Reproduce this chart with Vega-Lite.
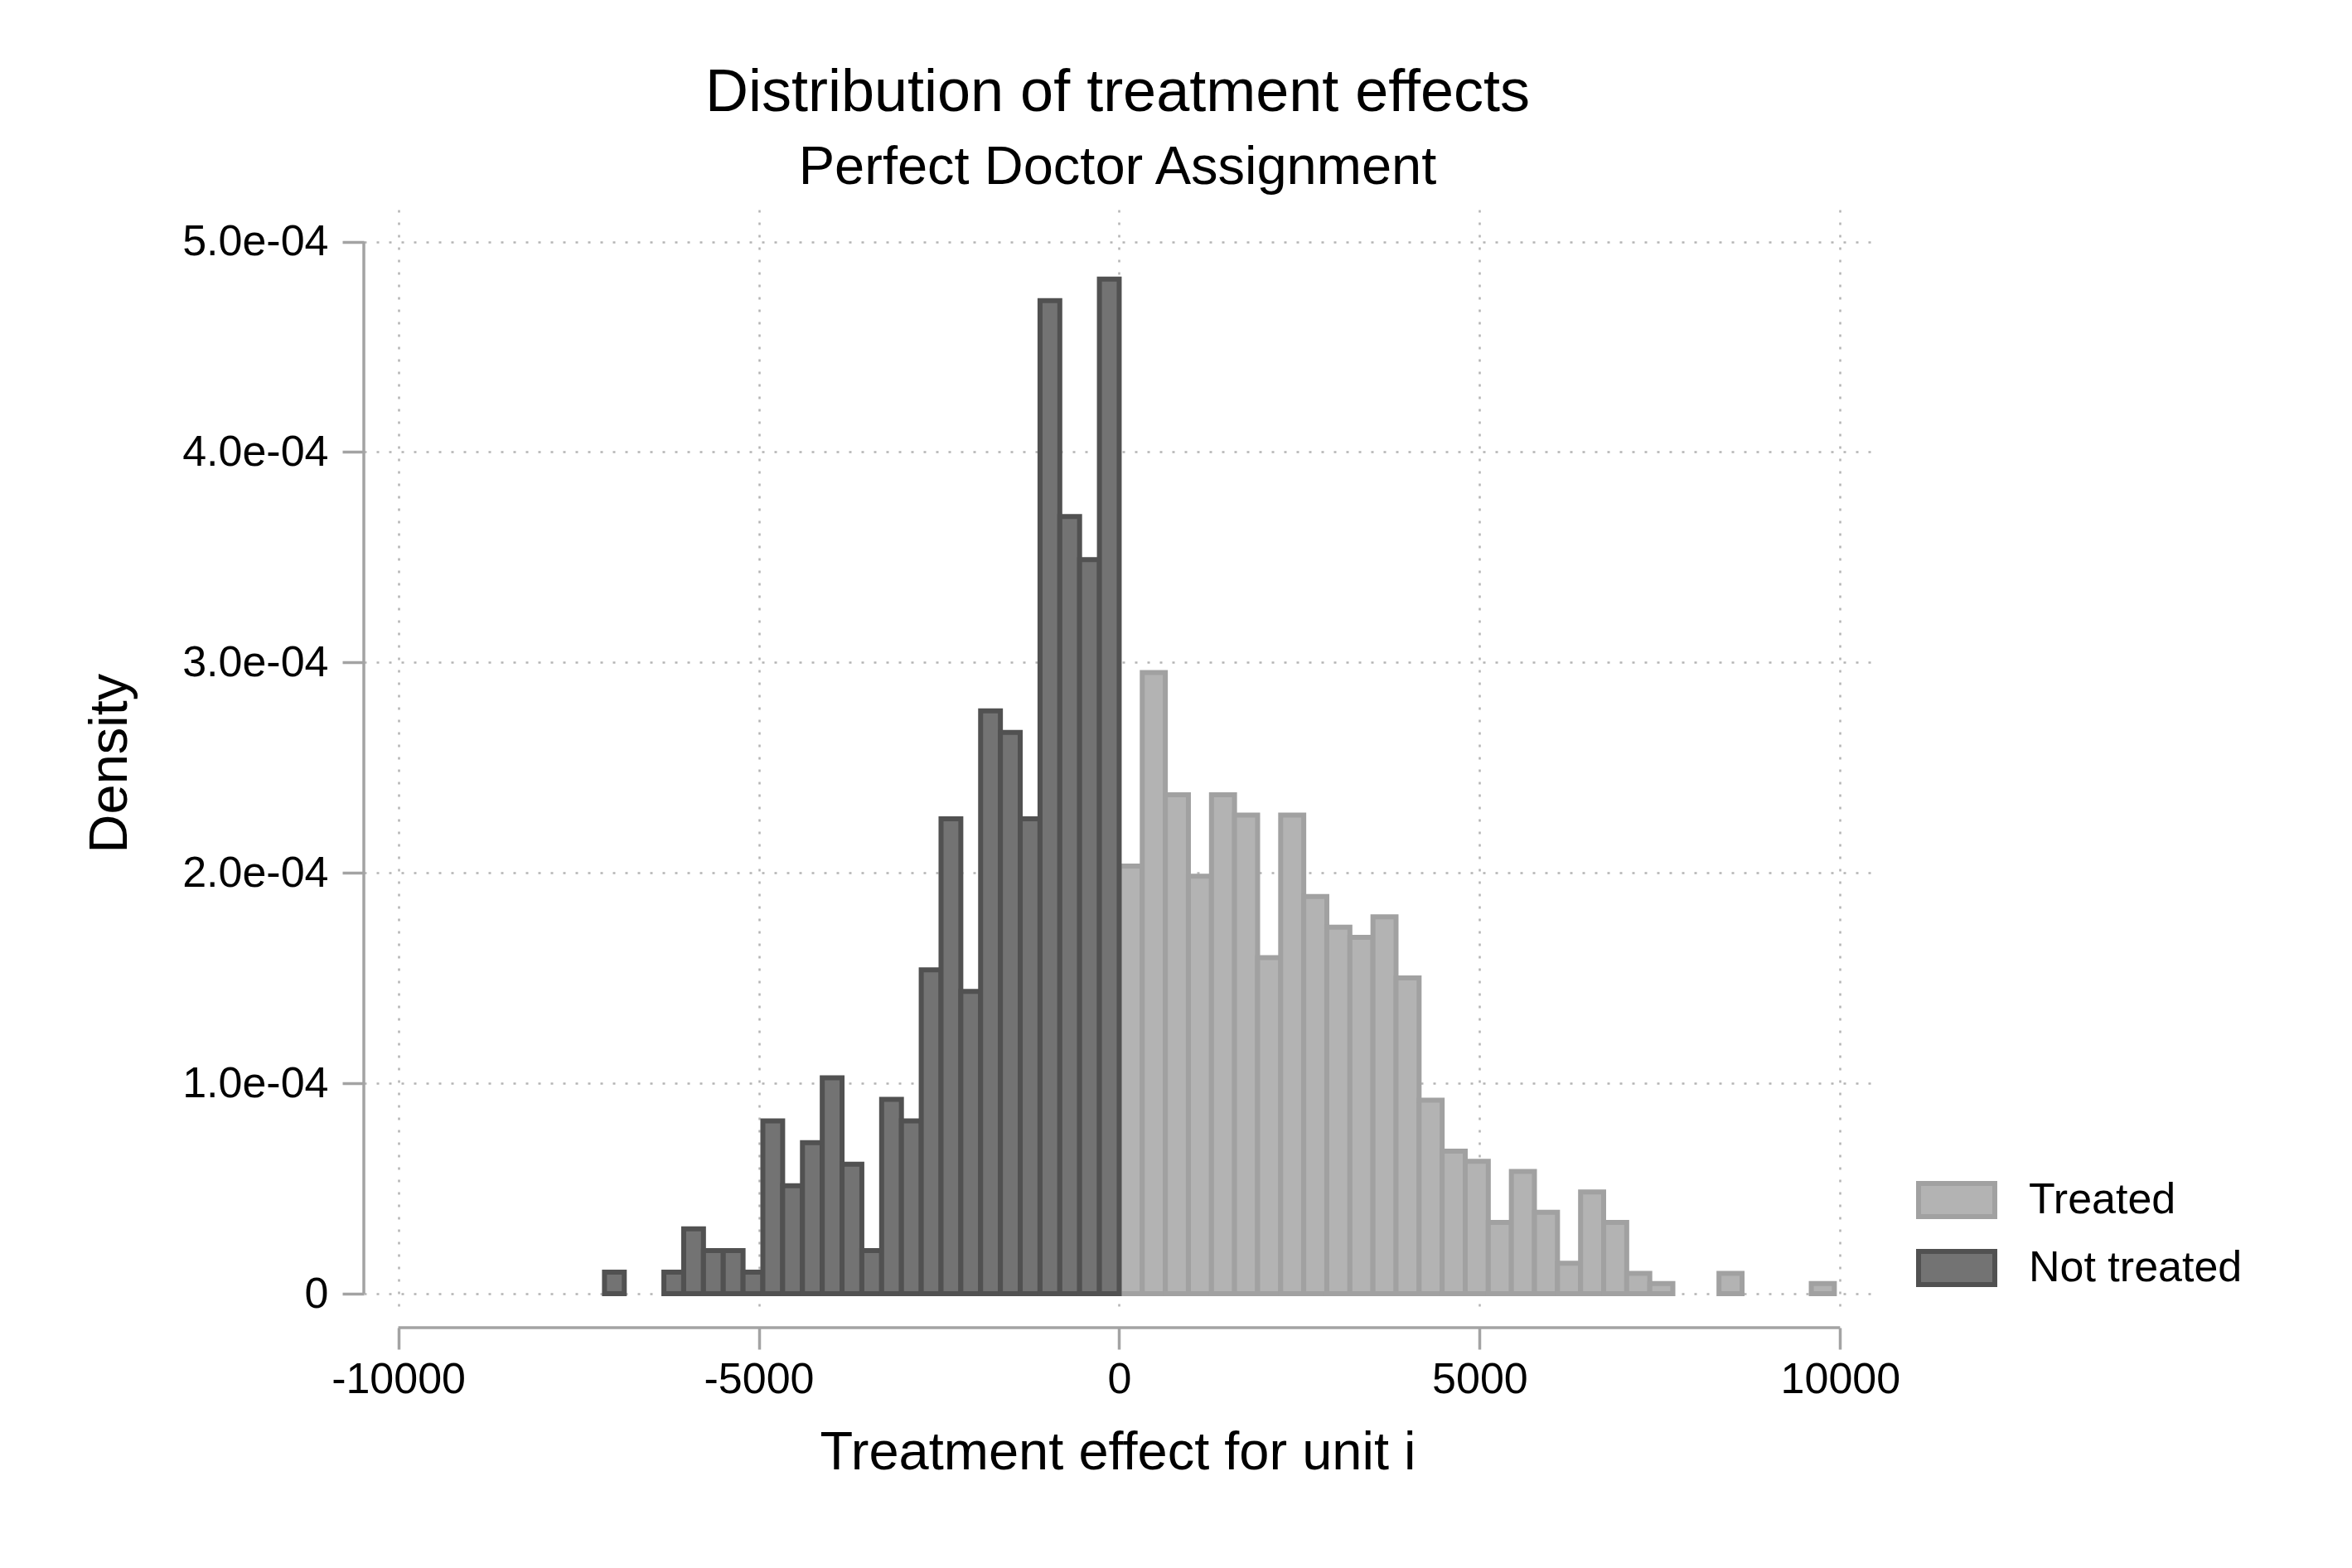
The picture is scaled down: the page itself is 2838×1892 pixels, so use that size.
{
  "$schema": "https://vega.github.io/schema/vega-lite/v6.json",
  "autosize": {"type": "none"},
  "padding": {"left": 439, "top": 253, "right": 580, "bottom": 304},
  "width": 1819,
  "height": 1335,
  "background": "white",
  "title": {
    "text": "Distribution of treatment effects",
    "subtitle": "Perfect Doctor Assignment",
    "anchor": "middle",
    "frame": "group",
    "font": "Liberation Sans",
    "fontSize": 72,
    "fontWeight": "normal",
    "color": "black",
    "subtitleFont": "Liberation Sans",
    "subtitleFontSize": 65,
    "subtitleColor": "black",
    "subtitlePadding": 22,
    "offset": 17
  },
  "config": {
    "view": {"stroke": null},
    "axis": {
      "labelFont": "Liberation Sans",
      "labelFontSize": 52,
      "labelColor": "black",
      "titleFont": "Liberation Sans",
      "titleFontSize": 65,
      "titleFontWeight": "normal",
      "titleColor": "black",
      "domain": false,
      "tickSize": 26,
      "tickWidth": 3.5,
      "tickColor": "#a3a3a3",
      "grid": true,
      "gridColor": "#b4b4b4",
      "gridWidth": 2.5,
      "gridDash": [3, 12],
      "labelLimit": 500,
      "labelOverlap": false,
      "labelFlush": false
    }
  },
  "layer": [
    {
      "data": {
        "values": [
          {"group": "Treated", "x0": 0, "x1": 320, "density": 0.00020328},
          {"group": "Treated", "x0": 320, "x1": 640, "density": 0.00029524},
          {"group": "Treated", "x0": 640, "x1": 960, "density": 0.00023716},
          {"group": "Treated", "x0": 960, "x1": 1280, "density": 0.00019844},
          {"group": "Treated", "x0": 1280, "x1": 1600, "density": 0.00023716},
          {"group": "Treated", "x0": 1600, "x1": 1920, "density": 0.00022748},
          {"group": "Treated", "x0": 1920, "x1": 2240, "density": 0.00015972},
          {"group": "Treated", "x0": 2240, "x1": 2560, "density": 0.00022748},
          {"group": "Treated", "x0": 2560, "x1": 2880, "density": 0.00018876},
          {"group": "Treated", "x0": 2880, "x1": 3200, "density": 0.00017424},
          {"group": "Treated", "x0": 3200, "x1": 3520, "density": 0.0001694},
          {"group": "Treated", "x0": 3520, "x1": 3840, "density": 0.00017908},
          {"group": "Treated", "x0": 3840, "x1": 4160, "density": 0.00015004},
          {"group": "Treated", "x0": 4160, "x1": 4480, "density": 0.00009196},
          {"group": "Treated", "x0": 4480, "x1": 4800, "density": 0.00006776},
          {"group": "Treated", "x0": 4800, "x1": 5120, "density": 0.00006292},
          {"group": "Treated", "x0": 5120, "x1": 5440, "density": 0.00003388},
          {"group": "Treated", "x0": 5440, "x1": 5760, "density": 0.00005808},
          {"group": "Treated", "x0": 5760, "x1": 6080, "density": 0.00003872},
          {"group": "Treated", "x0": 6080, "x1": 6400, "density": 0.00001452},
          {"group": "Treated", "x0": 6400, "x1": 6720, "density": 0.0000484},
          {"group": "Treated", "x0": 6720, "x1": 7040, "density": 0.00003388},
          {"group": "Treated", "x0": 7040, "x1": 7360, "density": 0.00000968},
          {"group": "Treated", "x0": 7360, "x1": 7680, "density": 0.00000484},
          {"group": "Treated", "x0": 8320, "x1": 8640, "density": 0.00000968},
          {"group": "Treated", "x0": 9600, "x1": 9920, "density": 0.00000484},
          {"group": "Not treated", "x0": -7139.6, "x1": -6865, "density": 0.00001026},
          {"group": "Not treated", "x0": -6315.8, "x1": -6041.2, "density": 0.00001026},
          {"group": "Not treated", "x0": -6041.2, "x1": -5766.6, "density": 0.00003078},
          {"group": "Not treated", "x0": -5766.6, "x1": -5492, "density": 0.00002052},
          {"group": "Not treated", "x0": -5492, "x1": -5217.4, "density": 0.00002052},
          {"group": "Not treated", "x0": -5217.4, "x1": -4942.8, "density": 0.00001026},
          {"group": "Not treated", "x0": -4942.8, "x1": -4668.2, "density": 0.00008208},
          {"group": "Not treated", "x0": -4668.2, "x1": -4393.6, "density": 0.0000513},
          {"group": "Not treated", "x0": -4393.6, "x1": -4119, "density": 0.00007182},
          {"group": "Not treated", "x0": -4119, "x1": -3844.4, "density": 0.0001026},
          {"group": "Not treated", "x0": -3844.4, "x1": -3569.8, "density": 0.00006156},
          {"group": "Not treated", "x0": -3569.8, "x1": -3295.2, "density": 0.00002052},
          {"group": "Not treated", "x0": -3295.2, "x1": -3020.6, "density": 0.00009234},
          {"group": "Not treated", "x0": -3020.6, "x1": -2746, "density": 0.00008208},
          {"group": "Not treated", "x0": -2746, "x1": -2471.4, "density": 0.0001539},
          {"group": "Not treated", "x0": -2471.4, "x1": -2196.8, "density": 0.00022572},
          {"group": "Not treated", "x0": -2196.8, "x1": -1922.2, "density": 0.00014364},
          {"group": "Not treated", "x0": -1922.2, "x1": -1647.6, "density": 0.00027702},
          {"group": "Not treated", "x0": -1647.6, "x1": -1373, "density": 0.00026676},
          {"group": "Not treated", "x0": -1373, "x1": -1098.4, "density": 0.00022572},
          {"group": "Not treated", "x0": -1098.4, "x1": -823.8, "density": 0.00047196},
          {"group": "Not treated", "x0": -823.8, "x1": -549.2, "density": 0.00036936},
          {"group": "Not treated", "x0": -549.2, "x1": -274.6, "density": 0.00034884},
          {"group": "Not treated", "x0": -274.6, "x1": 0, "density": 0.00048222}
        ]
      },
      "mark": {"type": "bar", "strokeWidth": 6, "opacity": 1},
      "encoding": {
        "x": {
          "field": "x0",
          "type": "quantitative",
          "scale": {"domain": [-10478, 10433], "nice": false, "zero": false},
          "axis": {
            "values": [-10000, -5000, 0, 5000, 10000],
            "labelExpr": "'' + datum.value",
            "labelPadding": 11,
            "offset": 14,
            "title": "Treatment effect for unit i",
            "titlePadding": 31
          }
        },
        "x2": {"field": "x1"},
        "y": {
          "field": "density",
          "type": "quantitative",
          "scale": {"domain": [-0.00001063, 0.0005152], "nice": false, "zero": false},
          "axis": {
            "values": [0, 0.0001, 0.0002, 0.0003, 0.0004, 0.0005],
            "labelExpr": "datum.value == 0 ? '0' : format(datum.value * 10000, '.1f') + 'e-04'",
            "labelPadding": 17,
            "title": "Density",
            "titlePadding": 73
          }
        },
        "y2": {"datum": 0},
        "fill": {
          "field": "group",
          "type": "nominal",
          "scale": {"domain": ["Treated", "Not treated"], "range": ["#b3b3b3", "#737373"]},
          "legend": {
            "orient": "none",
            "legendX": 1873,
            "legendY": 1146,
            "title": null,
            "symbolType": "M-1,-0.435H1V0.435H-1Z",
            "symbolSize": 8464,
            "symbolStrokeWidth": 6,
            "symbolOpacity": 1,
            "labelFont": "Liberation Sans",
            "labelFontSize": 52,
            "labelColor": "black",
            "labelOffset": 38,
            "labelLimit": 1000,
            "rowPadding": -14
          }
        },
        "stroke": {
          "field": "group",
          "type": "nominal",
          "scale": {"domain": ["Treated", "Not treated"], "range": ["#a1a1a1", "#515151"]}
        }
      }
    },
    {
      "data": {"values": [{}]},
      "mark": {"type": "rule", "color": "#a3a3a3", "strokeWidth": 3.5, "clip": false},
      "encoding": {
        "x": {"datum": -10000, "type": "quantitative"},
        "x2": {"datum": 10000},
        "y": {"datum": -0.00001615, "type": "quantitative"}
      }
    },
    {
      "data": {"values": [{}]},
      "mark": {"type": "rule", "color": "#a3a3a3", "strokeWidth": 3.5, "clip": false},
      "encoding": {
        "x": {"datum": -10478, "type": "quantitative"},
        "y": {"datum": 0, "type": "quantitative"},
        "y2": {"datum": 0.0005}
      }
    }
  ]
}
